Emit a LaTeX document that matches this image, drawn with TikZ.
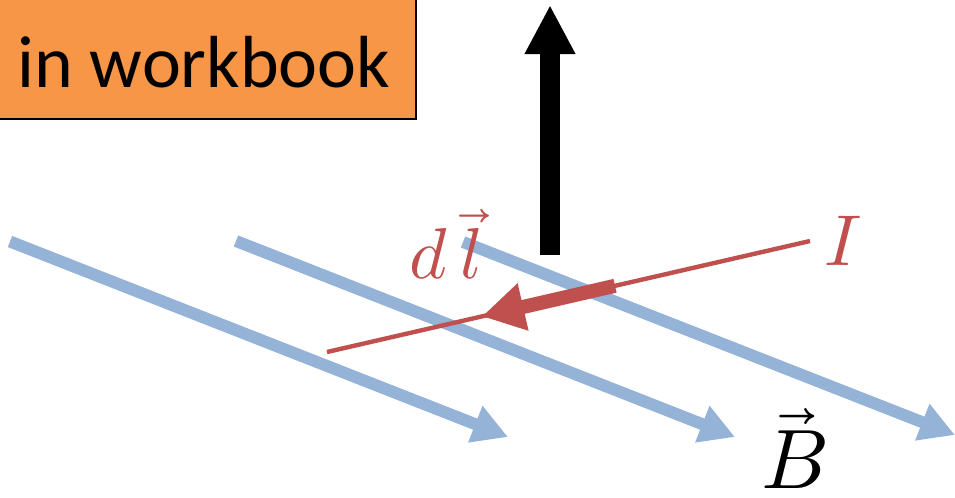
\documentclass[tikz,border=0pt]{standalone}
\usepackage{fontspec}
\usepackage{unicode-math}
\setmathfont{Latin Modern Math}
\newfontfamily\boxfont{Carlito}
\usetikzlibrary{arrows.meta}
\definecolor{fieldblue}{HTML}{95B3D7}
\definecolor{wirered}{HTML}{C0504D}
\definecolor{noteorange}{HTML}{F79646}

\begin{document}
\begin{tikzpicture}[x=0.02cm,y=-0.02cm,
  field/.style={fieldblue,line width=6.8pt,-{Triangle[length=20pt,width=21pt]}},
  wire/.style={wirered,line width=2.5pt},
  element/.style={wirered,line width=8pt,-{Triangle[length=24pt,width=26pt]}},
  force/.style={black,line width=11.3pt,-{Triangle[length=28pt,width=27pt]}}]
\useasboundingbox (0,0) rectangle (955,497);
% note box
\draw[fill=noteorange,line width=1.4pt] (-10,-10) rectangle (416,119);
\node[font=\boxfont\fontsize{42}{42}\selectfont,anchor=base] (note) at (204,87) {in workbook};
% field lines
\draw[field] (10,241.5) -- (508,437);
\draw[field] (236,241) -- (735,437);
\draw[field] (463,242) -- (955,435);
% current and element
\draw[wire] (327,352) -- (810,241);
\draw[element] (615,285.8) -- (482,316.4);
% force
\draw[force] (550,255) -- (550,5);
% labels
\node[wirered,font=\fontsize{41}{41}\selectfont,anchor=base,inner sep=0pt] (dl) at (446,278) {$d\,\vec{l}$};
\node[wirered,font=\fontsize{41}{41}\selectfont,anchor=base,inner sep=0pt] (cur) at (843,265) {$I$};
\node[font=\fontsize{48}{48}\selectfont,anchor=base,inner sep=0pt] (field) at (795,488) {$\vec{B}$};
\end{tikzpicture}
\end{document}
